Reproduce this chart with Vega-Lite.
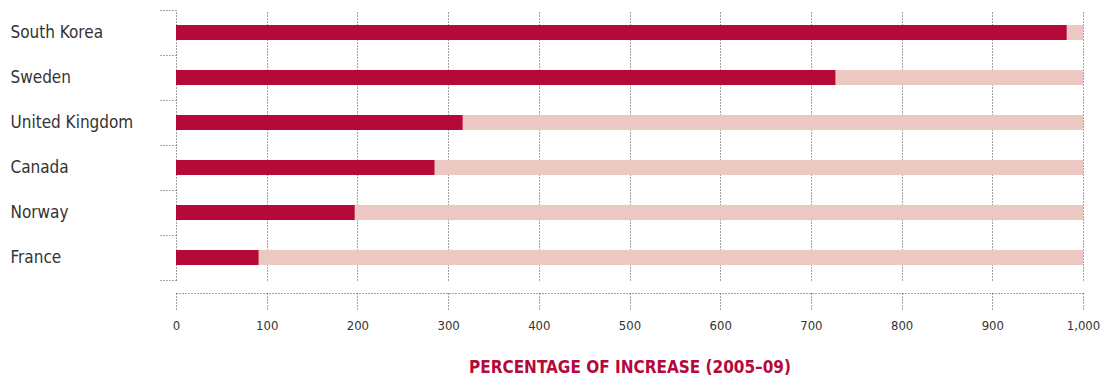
{
  "$schema": "https://vega.github.io/schema/vega-lite/v6.json",
  "width": 907,
  "height": 270,
  "autosize": {"type": "none"},
  "padding": {"left": 176, "top": 10, "right": 27, "bottom": 98},
  "background": "white",
  "config": {
    "view": {"stroke": null},
    "font": "DejaVu Sans Condensed, sans-serif"
  },
  "data": {
    "values": [
      {"country": "South Korea", "value": 982, "full": 1000},
      {"country": "Sweden", "value": 727, "full": 1000},
      {"country": "United Kingdom", "value": 316, "full": 1000},
      {"country": "Canada", "value": 285, "full": 1000},
      {"country": "Norway", "value": 197, "full": 1000},
      {"country": "France", "value": 91, "full": 1000}
    ]
  },
  "encoding": {
    "y": {
      "field": "country",
      "type": "nominal",
      "sort": null,
      "scale": {"paddingInner": 0, "paddingOuter": 0},
      "axis": {
        "title": null,
        "domain": false,
        "grid": false,
        "tickBand": "extent",
        "tickSize": 18,
        "tickDash": [1, 2],
        "tickColor": "#555",
        "labelAlign": "left",
        "labelPadding": 148,
        "labelFontSize": 17,
        "labelColor": "#333"
      }
    }
  },
  "layer": [
    {
      "mark": {"type": "bar", "color": "#ecc8c2", "height": {"band": 0.3334}},
      "encoding": {
        "x": {
          "field": "full",
          "type": "quantitative",
          "scale": {"domain": [0, 1000], "nice": false},
          "axis": {
            "values": [0, 100, 200, 300, 400, 500, 600, 700, 800, 900, 1000],
            "format": ",d",
            "offset": 13,
            "grid": true,
            "gridDash": [1, 2],
            "gridColor": "#444",
            "gridOpacity": 1,
            "domainDash": [1, 2],
            "domainColor": "#444",
            "tickDash": [1, 2],
            "tickColor": "#444",
            "tickSize": 17,
            "labelFlush": false,
            "labelFontSize": 13,
            "labelColor": "#333",
            "labelPadding": 9,
            "title": "PERCENTAGE OF INCREASE (2005–09)",
            "titleColor": "#b5093a",
            "titleFontSize": 17,
            "titleFontWeight": "bold",
            "titlePadding": 27
          }
        }
      }
    },
    {
      "mark": {"type": "bar", "color": "#b5093a", "height": {"band": 0.3334}},
      "encoding": {
        "x": {"field": "value", "type": "quantitative"}
      }
    }
  ]
}
